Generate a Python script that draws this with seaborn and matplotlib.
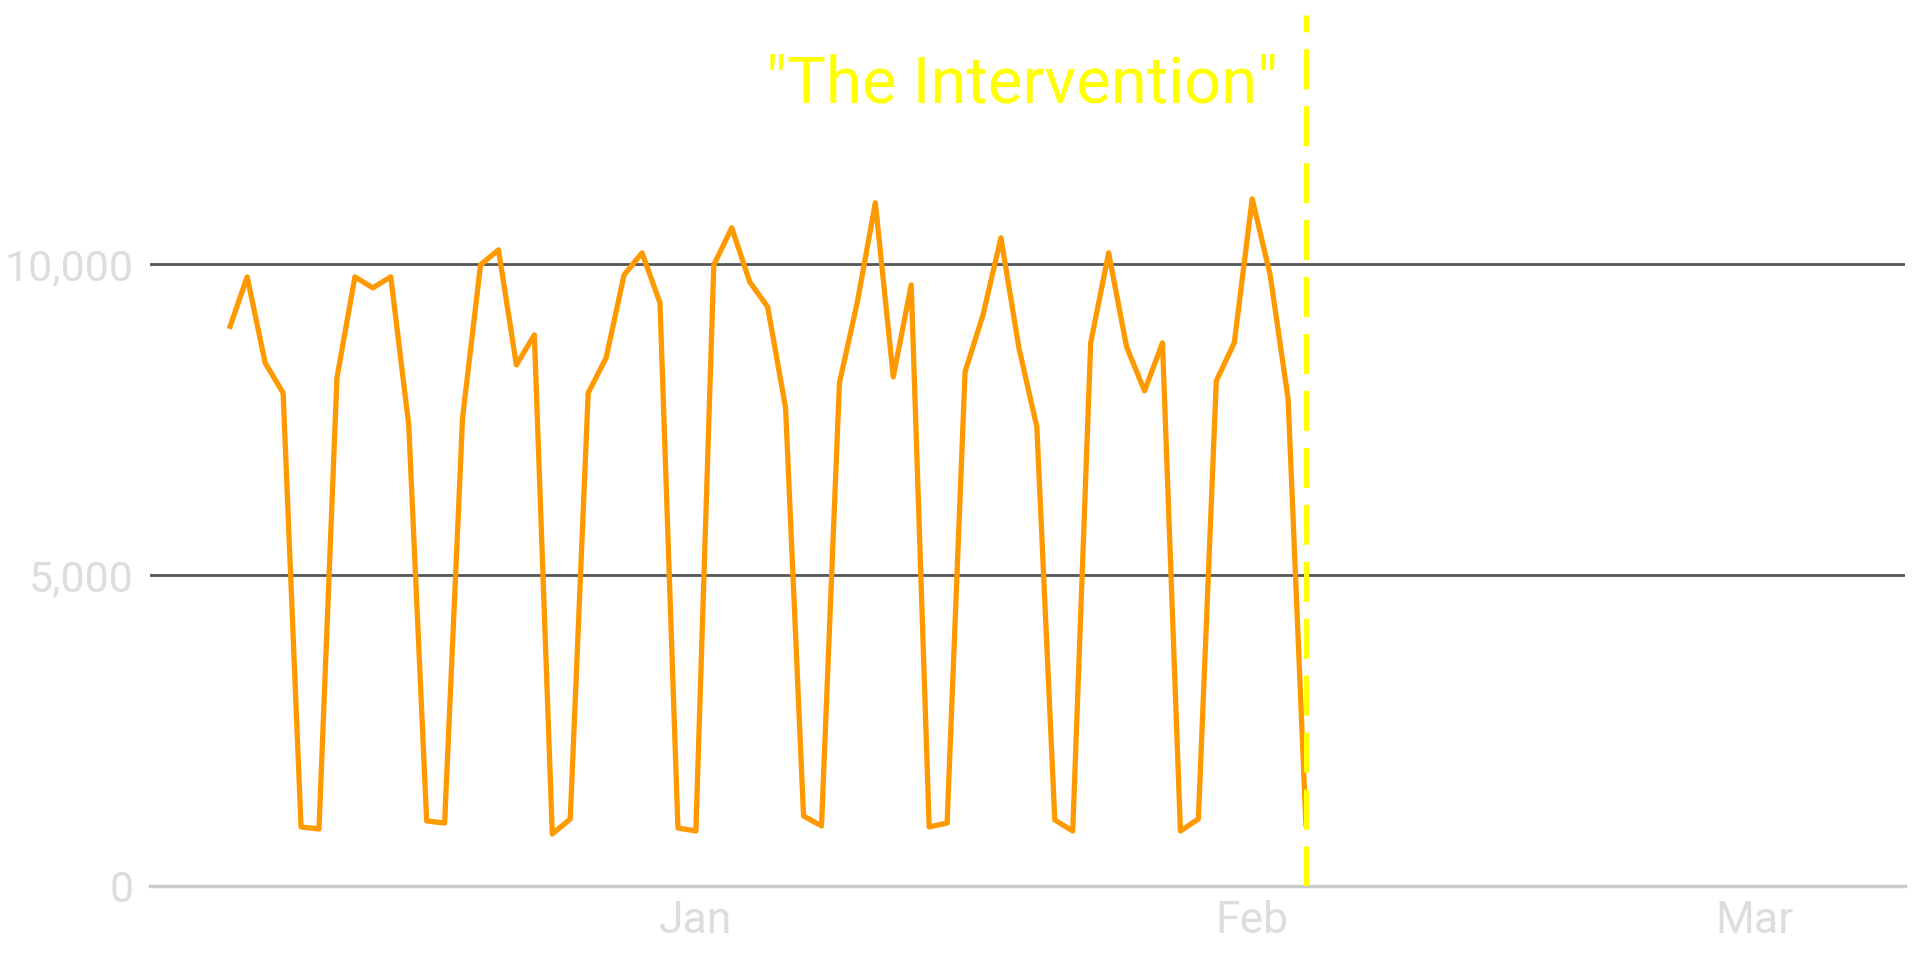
import pandas as pd
import matplotlib
matplotlib.use('Agg')
import matplotlib.pyplot as plt
import matplotlib.dates as mdates
import matplotlib.ticker as mticker
import seaborn as sns

# Daily values, 2022-12-06 .. 2023-02-04
start_date = '2022-12-06'
daily_values = [
    8955, 9791, 8408, 7926, 949, 916,                 # Dec 6 - Dec 11
    8167, 9791, 9614, 9791, 7411, 1045, 1013,         # Dec 12 - Dec 18
    7524, 9984, 10225, 8376, 8858, 836, 1077,         # Dec 19 - Dec 25
    7926, 8489, 9823, 10177, 9373, 932, 884,          # Dec 26 - Jan 1
    9984, 10579, 9710, 9309, 7685, 1125, 965,         # Jan 2 - Jan 8
    8087, 9389, 10981, 8183, 9662, 949, 1013,         # Jan 9 - Jan 15
    8264, 9180, 10418, 8650, 7379, 1061, 884,         # Jan 16 - Jan 22
    8730, 10177, 8666, 7958, 8730, 884, 1077,         # Jan 23 - Jan 29
    8119, 8730, 11045, 9823, 7829, 950,               # Jan 30 - Feb 4
]
intervention_date = '2023-02-04'
intervention_label = '"The Intervention"'
y_ticks = [0, 5000, 10000]
month_ticks = ['2023-01-01', '2023-02-01', '2023-03-01']

df = pd.DataFrame({
    'date': pd.date_range(start_date, periods=len(daily_values), freq='D'),
    'value': daily_values,
})

sns.set_style('white')
plt.rcParams['font.family'] = ['Roboto', 'DejaVu Sans']
plt.rcParams['lines.scale_dashes'] = False

fig = plt.figure(figsize=(19.2, 9.6), dpi=100)
ax = fig.add_axes([150 / 1920, 74 / 960, 1755 / 1920, 871 / 960])

# gridlines behind the data
for v in y_ticks[1:]:
    ax.axhline(v, color='#555555', lw=2, zorder=1)

sns.lineplot(data=df, x='date', y='value', ax=ax, color='#ff9900', lw=3.8,
             solid_joinstyle='round', solid_capstyle='butt', zorder=3)

iv = pd.Timestamp(intervention_date)
ax.axvline(iv, color='#ffff00', lw=3.6, linestyle=(0, (28.8, 12.2)), zorder=4)
ax.annotate(intervention_label, xy=(iv, 12600), xytext=(-20, 0),
            textcoords='offset points', ha='right', va='baseline',
            color='#ffff00', fontsize=47)

ax.set_ylim(0, 14000)
ax.set_xlim(pd.Timestamp('2022-12-01 14:00'), pd.Timestamp('2023-03-09 09:00'))

ax.set_yticks(y_ticks)
ax.yaxis.set_major_formatter(mticker.FuncFormatter(lambda v, p: f'{int(v):,}'))
ax.set_xticks(pd.to_datetime(month_ticks))
ax.xaxis.set_major_formatter(mdates.DateFormatter('%b'))
ax.tick_params(axis='both', length=0, labelcolor='#dddddd')
ax.tick_params(axis='y', pad=12, labelsize=31)
ax.tick_params(axis='x', pad=10, labelsize=32)

ax.set_xlabel('')
ax.set_ylabel('')
for s in ['top', 'right', 'left']:
    ax.spines[s].set_visible(False)
ax.spines['bottom'].set_color('#cccccc')
ax.spines['bottom'].set_linewidth(2.5)

fig.savefig('out.png', dpi=100, facecolor='white')
